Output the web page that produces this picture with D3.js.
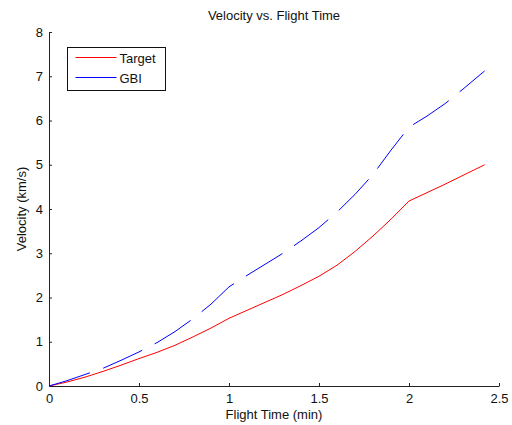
<!DOCTYPE html>
<html>
<head>
<meta charset="utf-8">
<script src="https://cdn.jsdelivr.net/npm/d3@7"></script>
<style>
  body { margin: 0; background: #fff; }
  text { font-family: "Liberation Sans", Arial, sans-serif; }
</style>
</head>
<body>
<div id="chart-container"></div>
<script>
// Flight time samples (min)
const times = [0, 0.1, 0.2, 0.3, 0.4, 0.5, 0.6, 0.7, 0.8, 0.9, 1.0, 1.1, 1.2,
  1.3, 1.4, 1.5, 1.6, 1.7, 1.8, 1.9, 2.0, 2.1, 2.2, 2.3, 2.42];

// Velocity (km/s) of each object
const targetVel = [0, 0.09, 0.2, 0.33, 0.47, 0.62, 0.76, 0.92, 1.11, 1.31, 1.53, 1.71, 1.89,
  2.07, 2.27, 2.48, 2.73, 3.04, 3.39, 3.77, 4.18, 4.37, 4.56, 4.76, 5.0];
const gbiVel = [0, 0.12, 0.26, 0.40, 0.58, 0.77, 0.98, 1.23, 1.52, 1.85, 2.24, 2.5, 2.75,
  3.0, 3.28, 3.58, 3.93, 4.33, 4.78, 5.33, 5.85, 6.1, 6.38, 6.71, 7.12];

const xTicks = [0, 0.5, 1, 1.5, 2, 2.5];
const yTicks = [0, 1, 2, 3, 4, 5, 6, 7, 8];

const margin = { top: 32, right: 13, bottom: 39, left: 49 };
const width = 512 - margin.left - margin.right;
const height = 425 - margin.top - margin.bottom;

const x = d3.scaleLinear().domain([0, 2.5]).range([0, width]);
const y = d3.scaleLinear().domain([0, 8]).range([height, 0]);

const svg = d3.select("#chart-container")
    .append("svg")
    .attr("width", 512)
    .attr("height", 425);

const g = svg.append("g")
    .attr("transform", `translate(${margin.left},${margin.top})`);

// Axes, ticks pointing inward like MATLAB
const xAxis = g.append("g")
    .attr("transform", `translate(0,${height})`)
    .call(d3.axisBottom(x).tickValues(xTicks).tickSizeInner(-3).tickSizeOuter(0)
        .tickPadding(8).tickFormat(d3.format("")));

const yAxis = g.append("g")
    .call(d3.axisLeft(y).tickValues(yTicks).tickSizeInner(-3).tickSizeOuter(0)
        .tickPadding(6).tickFormat(d3.format("")));

[xAxis, yAxis].forEach(a => {
    a.select(".domain").attr("stroke", "#222");
    a.selectAll(".tick line").attr("stroke", "#222");
    a.selectAll(".tick text")
        .attr("fill", "#111")
        .style("font-size", "13px")
        .style("font-family", "'Liberation Sans', Arial, sans-serif");
});

const line = d3.line()
    .x((d, i) => x(times[i]))
    .y(d => y(d));

g.append("path")
    .datum(targetVel)
    .attr("fill", "none")
    .attr("stroke", "#ff0000")
    .attr("stroke-width", 1)
    .attr("d", line);

g.append("path")
    .datum(gbiVel)
    .attr("fill", "none")
    .attr("stroke", "#0000ff")
    .attr("stroke-width", 1)
    .attr("stroke-dasharray", "43,14")
    .attr("d", line);

// Title and axis labels
svg.append("text")
    .attr("x", margin.left + width / 2)
    .attr("y", 20)
    .attr("text-anchor", "middle")
    .style("font-size", "13px")
    .attr("fill", "#111")
    .text("Velocity vs. Flight Time");

svg.append("text")
    .attr("x", margin.left + width / 2)
    .attr("y", 419)
    .attr("text-anchor", "middle")
    .style("font-size", "13px")
    .attr("fill", "#111")
    .text("Flight Time (min)");

svg.append("text")
    .attr("transform", `translate(26,${margin.top + height / 2}) rotate(-90)`)
    .attr("text-anchor", "middle")
    .style("font-size", "13px")
    .attr("fill", "#111")
    .text("Velocity (km/s)");

// Legend
const legend = svg.append("g").attr("transform", "translate(67.5,47.5)");
legend.append("rect")
    .attr("width", 98)
    .attr("height", 43)
    .attr("fill", "#fff")
    .attr("stroke", "#111");

const entries = [
    { name: "Target", color: "#ff0000" },
    { name: "GBI", color: "#0000ff" }
];

entries.forEach((e, i) => {
    legend.append("line")
        .attr("x1", 8).attr("x2", 49)
        .attr("y1", 10 + i * 20).attr("y2", 10 + i * 20)
        .attr("stroke", e.color);
    legend.append("text")
        .attr("x", 52)
        .attr("y", 15 + i * 20)
        .style("font-size", "13px")
        .attr("fill", "#111")
        .text(e.name);
});
</script>
</body>
</html>
